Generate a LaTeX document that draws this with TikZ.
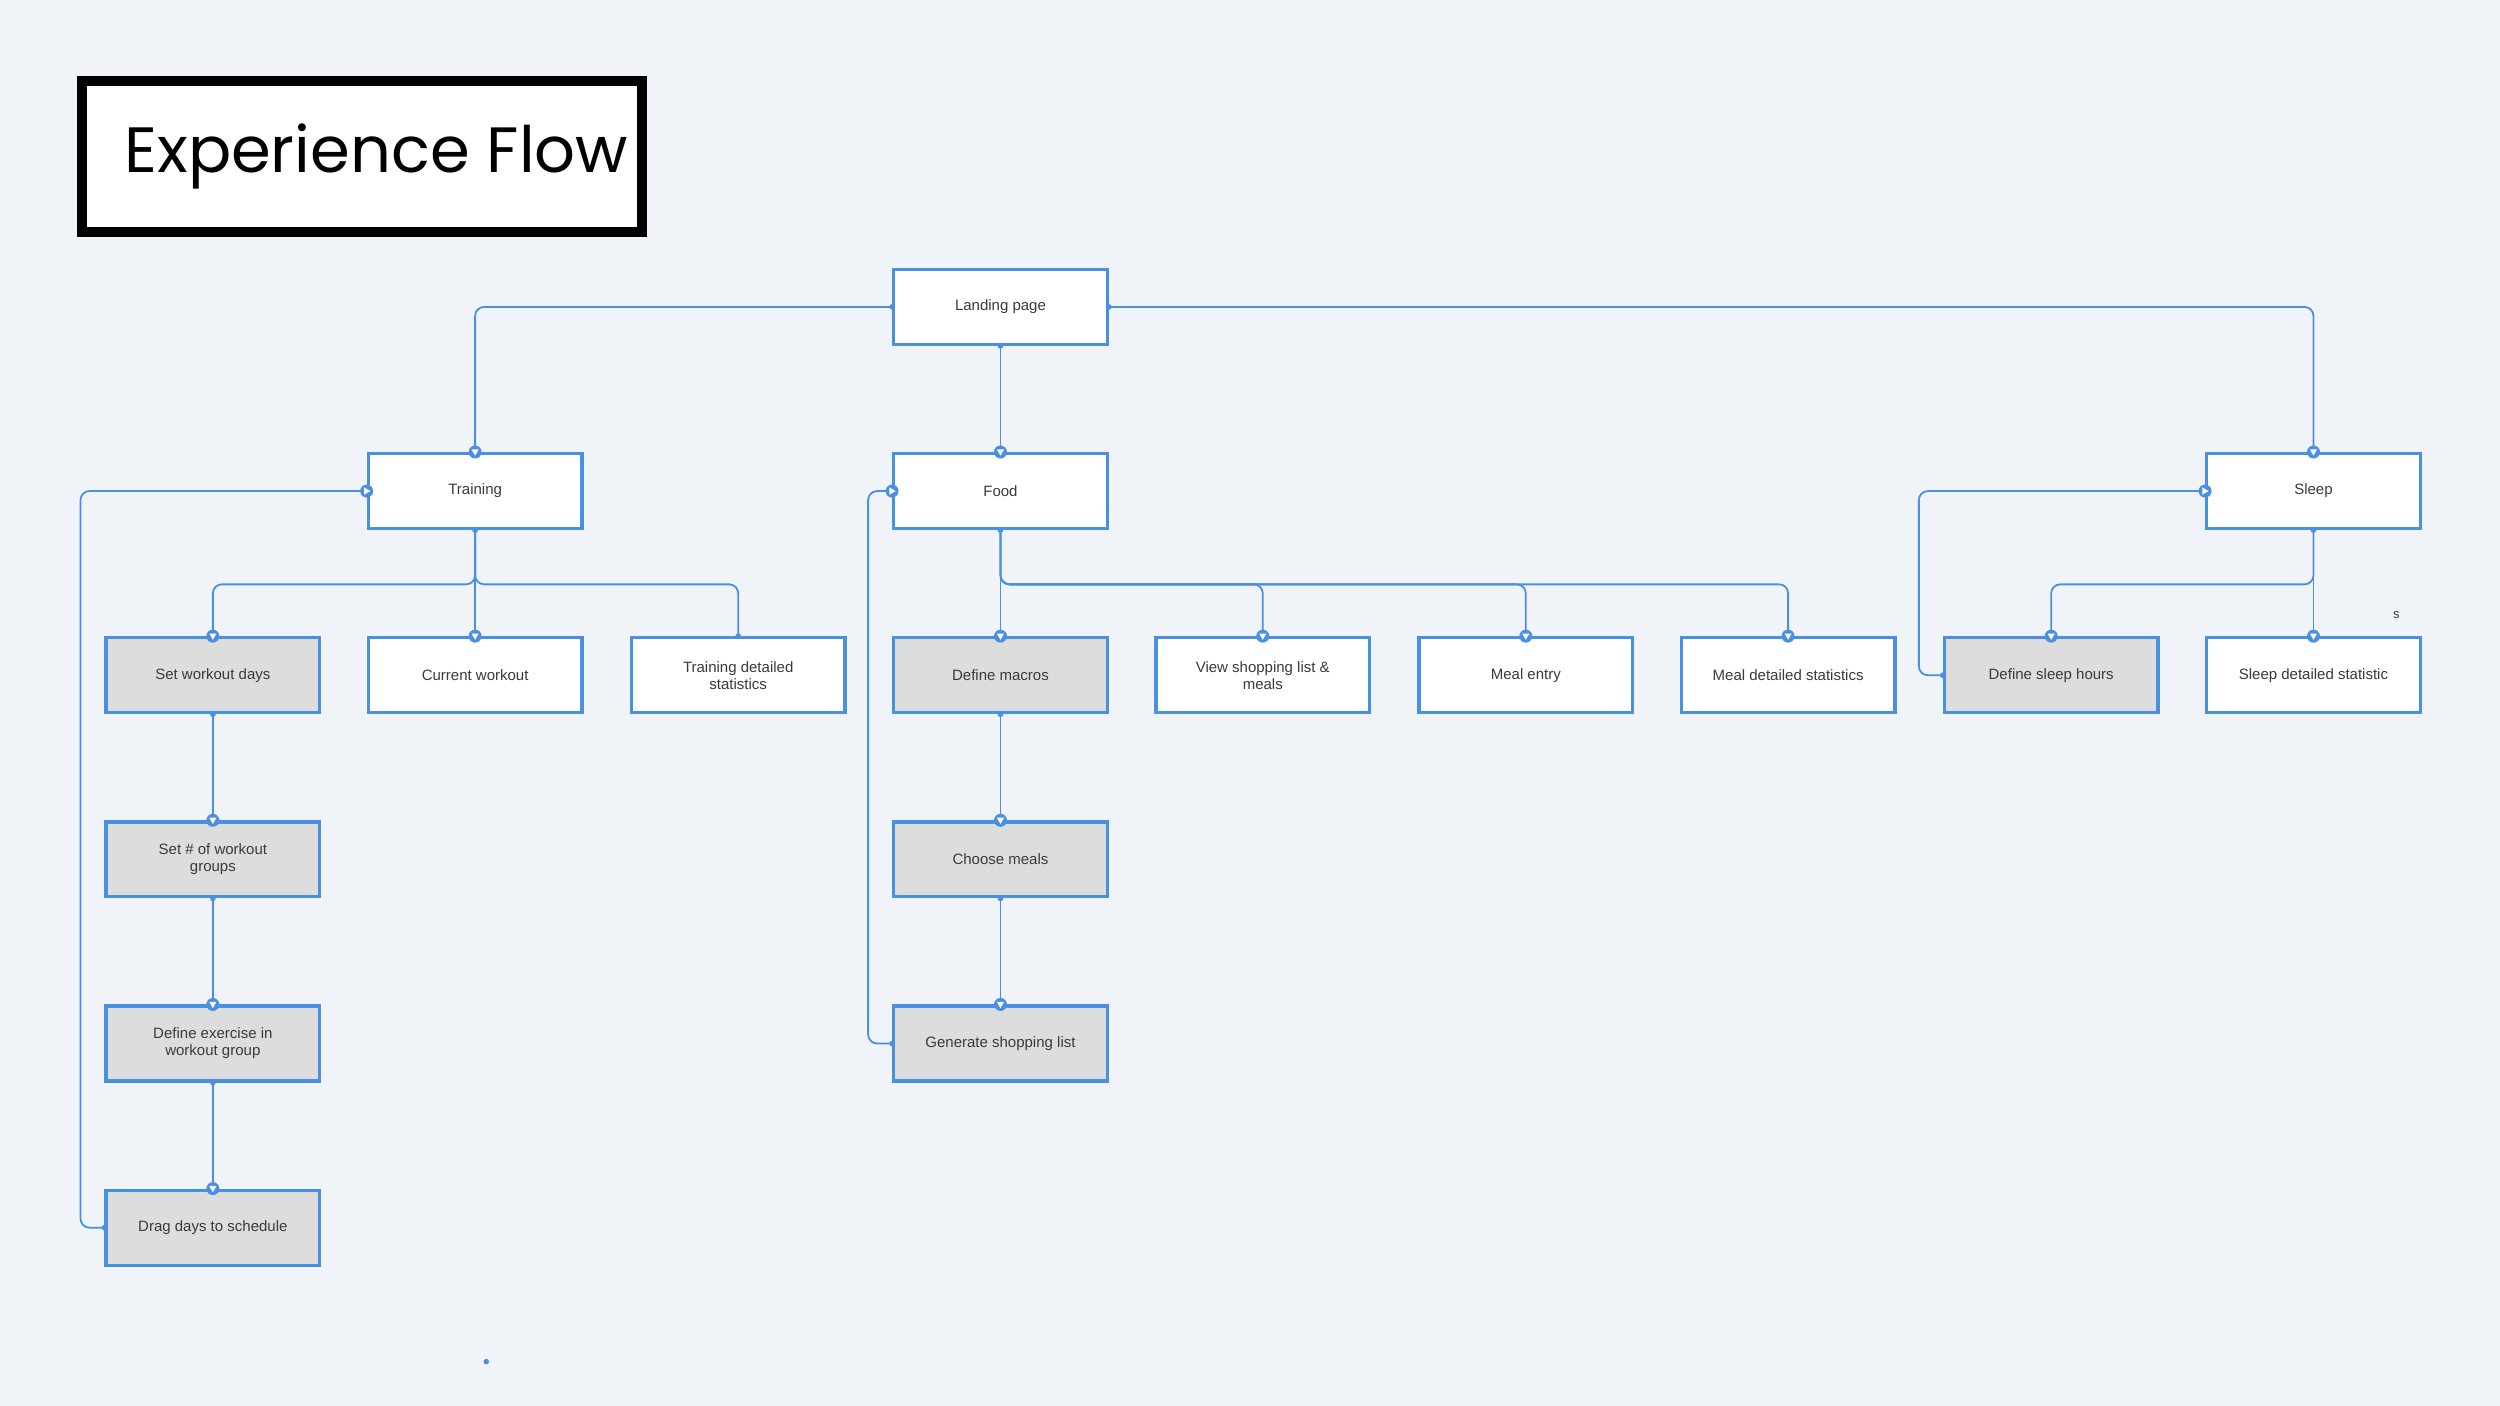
\documentclass[tikz,border=0pt]{standalone}
\usepackage{fontspec}
\setmainfont{Liberation Sans}
\newfontfamily\titlefont{Poppins}
\usetikzlibrary{calc}
\definecolor{bl}{HTML}{4A90E2}
\definecolor{bg}{HTML}{F0F4F9}
\definecolor{gr}{HTML}{DDDDDD}
\definecolor{tx}{HTML}{3A3A3A}
\newcommand\mkD[1]{\fill[bl] (#1) circle (6.5pt); \fill[white] ($(#1)+(-3.6pt,2.6pt)$) -- ($(#1)+(3.6pt,2.6pt)$) -- ($(#1)+(0,-3.6pt)$) -- cycle;}
\newcommand\mkR[1]{\fill[bl] (#1) circle (6.5pt); \fill[white] ($(#1)+(-2.6pt,3.6pt)$) -- ($(#1)+(-2.6pt,-3.6pt)$) -- ($(#1)+(3.6pt,0)$) -- cycle;}
\newcommand\dt[1]{\fill[bl] (#1) circle (2.8pt);}
\begin{document}
\begin{tikzpicture}[x=1.5944pt,y=-1.5944pt,
  box/.style={draw=bl,line width=3.2pt,fill=white,minimum width=134*1.5944pt,minimum height=47*1.5944pt,inner sep=0pt,align=center,text=tx,font=\fontsize{15pt}{17pt}\selectfont},
  gbox/.style={box,fill=gr},
  conn/.style={draw=bl,line width=1.8pt,rounded corners=9pt}]
\fill[bg] (0,0) rectangle (1568,881.8);
\useasboundingbox (0,0) rectangle (1568,881.8);
% title
\node[draw=black,line width=10pt,fill=white,minimum width=351*1.5944pt,minimum height=95*1.5944pt,inner sep=0pt] (title) at (227,98) {};
\node[anchor=west,font=\titlefont\fontsize{64pt}{70pt}\selectfont,inner sep=0pt] (tt) at (78,98) {Experience Flow};
% nodes
\node[box] (land) at (627.5,192.5) {Landing page};
\node[box] (tr) at (298,308) {Training};
\node[box] (fo) at (627.5,308) {Food};
\node[box] (sl) at (1451,308) {Sleep};
\node[gbox] (swd) at (133.5,423.5) {Set workout days};
\node[box] (cw) at (298,423.5) {Current workout};
\node[box] (tds) at (463,423.5) {Training detailed\\statistics};
\node[gbox] (dm) at (627.5,423.5) {Define macros};
\node[box] (vsl) at (792,423.5) {View shopping list \&\\meals};
\node[box] (me) at (957,423.5) {Meal entry};
\node[box] (mds) at (1121.5,423.5) {Meal detailed statistics};
\node[gbox] (dsh) at (1286.5,423.5) {Define sleep hours};
\node[box] (sds) at (1451,423.5) {Sleep detailed statistic};
\node[gbox] (swg) at (133.5,539) {Set \# of workout\\groups};
\node[gbox] (cm) at (627.5,539) {Choose meals};
\node[gbox] (dew) at (133.5,654.5) {Define exercise in\\workout group};
\node[gbox] (gsl) at (627.5,654.5) {Generate shopping list};
\node[gbox] (dds) at (133.5,770) {Drag days to schedule};
\node[text=tx,font=\fontsize{13pt}{15pt}\selectfont] (s) at (1503,386) {s};
\coordinate (dot) at (305,854);
\dt{dot}
% connectors
\draw[conn] (land.south) -- (fo.north);
\draw[conn] (land.west) -| (tr.north);
\draw[conn] (land.east) -| (sl.north);
\draw[conn] (tr.south) -- (cw.north);
\draw[conn] (tr.south) -- ++(0,34) -| (swd.north);
\draw[conn] (tr.south) -- ++(0,34) -| (tds.north);
\draw[conn] (swd.south) -- (swg.north);
\draw[conn] (swg.south) -- (dew.north);
\draw[conn] (dew.south) -- (dds.north);
\draw[conn] (dds.west) -- ++(-15,0) |- (tr.west);
\draw[conn] (fo.south) -- (dm.north);
\draw[conn] (fo.south) -- ++(0,34) -| (vsl.north);
\draw[conn] (fo.south) -- ++(0,34) -| (me.north);
\draw[conn] (fo.south) -- ++(0,34) -| (mds.north);
\draw[conn] (dm.south) -- (cm.north);
\draw[conn] (cm.south) -- (gsl.north);
\draw[conn] (gsl.west) -- ++(-15,0) |- (fo.west);
\draw[conn] (sl.south) -- (sds.north);
\draw[conn] (sl.south) -- ++(0,34) -| (dsh.north);
\draw[conn] (dsh.west) -- ++(-15,0) |- (sl.west);
% markers
\foreach \n in {tr,fo,sl,swd,cw,dm,vsl,me,mds,dsh,sds,swg,cm,dew,gsl,dds}{\mkD{\n.north}}
\foreach \n in {tr,fo,sl}{\mkR{\n.west}}
\foreach \c in {land.south,land.west,land.east,tr.south,fo.south,sl.south,swd.south,swg.south,dew.south,dm.south,cm.south,tds.north,dds.west,gsl.west,dsh.west}{\dt{\c}}
\end{tikzpicture}
\end{document}
